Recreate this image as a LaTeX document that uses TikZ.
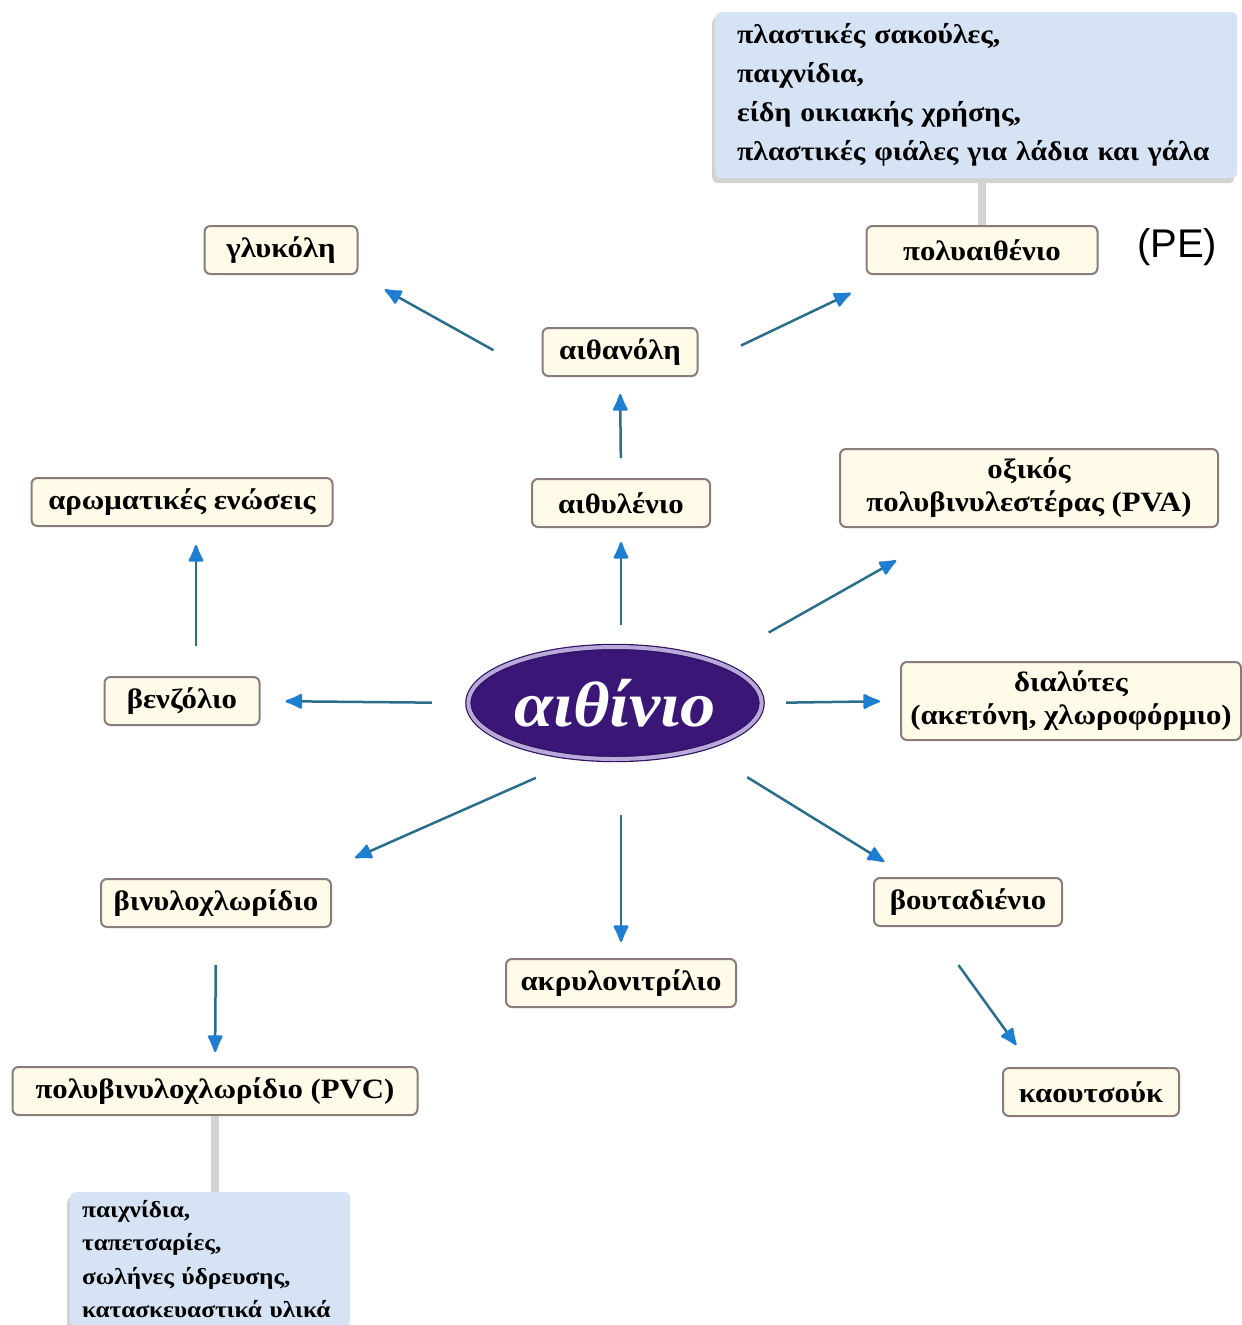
\documentclass[tikz,border=0pt]{standalone}
\usepackage{fontspec}
\setmainfont{Liberation Serif}[FakeStretch=1.1]
\newfontfamily\labelsans{Liberation Sans}
\usetikzlibrary{arrows.meta,shapes.geometric,shadows}

\definecolor{boxfill}{HTML}{FFFBE8}
\definecolor{boxline}{HTML}{8C7B7B}
\definecolor{notefill}{HTML}{D5E3F4}
\definecolor{arrline}{HTML}{2B6E8C}
\definecolor{arrtip}{HTML}{1E7FD2}
\definecolor{ethfill}{HTML}{3A1676}
\definecolor{ethline}{HTML}{B9A9DA}
\definecolor{stemgray}{HTML}{D3D3D3}

\begin{document}
\begin{tikzpicture}[
  x=1pt, y=-1pt,
  item/.style={draw=boxline, line width=2pt, fill=boxfill, rounded corners=6pt, minimum height=48pt, inner sep=4pt, align=center, font=\fontsize{28}{33}\selectfont\bfseries},
  note/.style={fill=notefill, rounded corners=5pt, align=left, anchor=north west, drop shadow={shadow xshift=-3pt, shadow yshift=-5pt, opacity=0.35}},
  arrow/.style={-{Latex[length=20pt, width=17pt, round, color=arrtip]}, draw=arrline, line width=2.5pt},
  stem/.style={draw=stemgray, line width=8pt}
]
\clip (0,0) rectangle (1242,1325);
\fill[white] (0,0) rectangle (1242,1325);

\node[ellipse, fill=ethfill, draw=ethfill!80!black, line width=1.2pt, double=ethline, double distance=4pt, minimum width=286pt, minimum height=112pt, text=white, font=\fontsize{64}{64}\selectfont\bfseries\itshape] (ethyne) at (615,703) {αιθίνιο};

\node[item, minimum width=153pt] (glycol) at (281,250) {γλυκόλη};
\node[item, minimum width=231pt] (pe) at (982,250) {πολυαιθένιο};
\node[font=\labelsans\fontsize{40}{40}\selectfont] (pelabel) at (1177,247) {(PE)};
\node[item, minimum width=155pt] (ethanol) at (620,352) {αιθανόλη};
\node[item, minimum width=178pt] (ethylene) at (621,503) {αιθυλένιο};
\node[item, minimum width=301pt] (aromatic) at (182,502) {αρωματικές ενώσεις};
\node[item, minimum width=378pt, minimum height=78pt] (pva) at (1029,488) {οξικός\\πολυβινυλεστέρας (PVA)};
\node[item, minimum width=155pt] (benzene) at (182,701) {βενζόλιο};
\node[item, minimum width=340pt, minimum height=78pt] (solvents) at (1071,701) {διαλύτες\\(ακετόνη, χλωροφόρμιο)};
\node[item, minimum width=230pt] (vinyl) at (216,903) {βινυλοχλωρίδιο};
\node[item, minimum width=230pt] (acryl) at (621,983) {ακρυλονιτρίλιο};
\node[item, minimum width=188pt] (buta) at (968,902) {βουταδιένιο};
\node[item, minimum width=176pt] (rubber) at (1091,1092) {καουτσούκ};
\node[item, minimum width=405pt] (pvc) at (215,1091) {πολυβινυλοχλωρίδιο (PVC)};

\node[note, text width=478pt, inner xsep=22pt, minimum height=166pt, font=\fontsize{27}{39}\selectfont\bfseries] (penote) at (715,12) {πλαστικές σακούλες,\\παιχνίδια,\\είδη οικιακής χρήσης,\\πλαστικές φιάλες για λάδια και γάλα};
\node[note, text width=256pt, inner xsep=12pt, inner ysep=8pt, font=\fontsize{23}{33.5}\selectfont\bfseries] (pvcnote) at (70,1192) {παιχνίδια,\\ταπετσαρίες,\\σωλήνες ύδρευσης,\\κατασκευαστικά υλικά};

\draw[stem] (pe.north) -- (pe.north |- penote.south);
\draw[stem] (pvc.south) -- (pvc.south |- pvcnote.north);

\draw[arrow, shorten <=55pt, shorten >=30pt] (ethanol.south west) -- (glycol.south east);
\draw[arrow, shorten <=47pt, shorten >=42pt] (ethanol.-10) -- (pe.195);
\draw[arrow, shorten <=20pt, shorten >=17pt] (ethylene.north) -- (ethanol.south);
\draw[arrow, shorten <=21pt, shorten >=14pt] (ethylene |- ethyne.north) -- (ethylene.south);
\draw[arrow, shorten <=60pt, shorten >=66pt] (ethyne.22.5) -- (pva.208);
\draw[arrow, shorten <=24pt, shorten >=20pt] (ethyne.east) -- (solvents.west);
\draw[arrow, shorten <=36pt, shorten >=25pt] (ethyne.west) -- (benzene.east);
\draw[arrow, shorten <=30pt, shorten >=18pt] ([xshift=14pt]benzene.north) -- ([xshift=14pt]aromatic.south);
\draw[arrow, shorten <=49pt, shorten >=50pt] (ethyne.238) -- (vinyl.15);
\draw[arrow, shorten <=55pt, shorten >=16pt] (acryl |- ethyne.south) -- (acryl.north);
\draw[arrow, shorten <=54pt, shorten >=29pt] (ethyne.-28) -- (buta.157);
\draw[arrow, shorten <=47pt, shorten >=27pt] (buta.214) -- (rubber.157);
\draw[arrow, shorten <=37pt, shorten >=14pt] (vinyl.south) -- (pvc.north);
\end{tikzpicture}
\end{document}
